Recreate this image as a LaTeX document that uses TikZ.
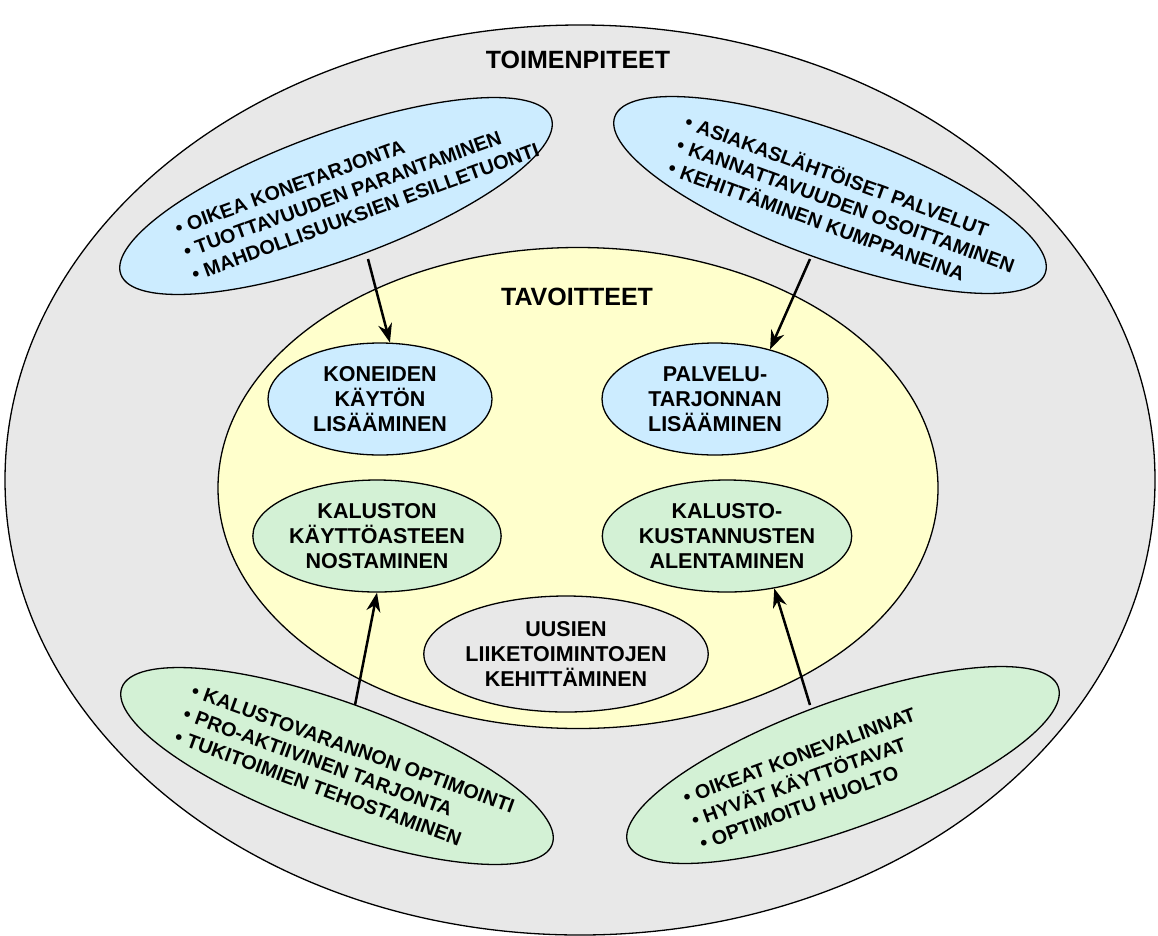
\documentclass[tikz,border=0pt]{standalone}
\usepackage{fontspec}
\setmainfont{Liberation Sans}
\usetikzlibrary{shapes.geometric,arrows.meta}
\definecolor{greyfill}{RGB}{232,232,232}
\definecolor{yellowfill}{RGB}{255,255,204}
\definecolor{bluefill}{RGB}{204,236,255}
\definecolor{greenfill}{RGB}{211,241,213}
\begin{document}
\begin{tikzpicture}[x=1pt,y=-1pt,>={Stealth[length=19pt,width=14pt]},
  goal/.style={ellipse,draw,line width=1.3pt,inner sep=0pt,align=center,minimum height=112pt,
    font=\fontsize{21.5}{25}\selectfont\bfseries},
  action/.style={ellipse,draw,line width=1.3pt,inner sep=0pt,minimum width=458pt,minimum height=127pt},
  bullets/.style={anchor=west,inner sep=0pt,align=left,font=\fontsize{19.8}{24.5}\selectfont\bfseries},
  head/.style={font=\fontsize{25}{30}\selectfont\bfseries}]
\useasboundingbox (0,0) rectangle (1158,935);
% containers
\node[ellipse,draw,line width=1.3pt,fill=greyfill,minimum width=1150pt,minimum height=910pt] (outer) at (580,480) {};
\node[ellipse,draw,line width=1.3pt,fill=yellowfill,minimum width=720pt,minimum height=481pt] (inner) at (578,488) {};
\node[head] (toimen) at (578,60) {TOIMENPITEET};
\node[head] (tavoit) at (577,297) {TAVOITTEET};
% goals
\node[goal,fill=bluefill,minimum width=224pt] (kone) at (380,399) {KONEIDEN\\KÄYTÖN\\LISÄÄMINEN};
\node[goal,fill=bluefill,minimum width=226pt] (palvelu) at (715,399) {PALVELU-\\TARJONNAN\\LISÄÄMINEN};
\node[goal,fill=greenfill,minimum width=240pt] (kaluston) at (377,536) {KALUSTON\\KÄYTTÖASTEEN\\NOSTAMINEN};
\node[goal,fill=greenfill,minimum width=230pt] (kustannus) at (727,536) {KALUSTO-\\KUSTANNUSTEN\\ALENTAMINEN};
\node[goal,fill=greyfill,minimum width=253pt,minimum height=116pt] (uusien) at (566,654) {UUSIEN\\LIIKETOIMINTOJEN\\KEHITTÄMINEN};
% actions
\node[action,fill=bluefill,rotate=20] (kone_act) at (336,196) {};
\node[action,fill=bluefill,rotate=-20] (palvelu_act) at (830,195) {};
\node[action,fill=greenfill,rotate=-20] (kaluston_act) at (337,766) {};
\node[action,fill=greenfill,rotate=20] (kustannus_act) at (843,765) {};
\node[bullets,rotate=20] (kone_txt) at (184,252) {•\ OIKEA KONETARJONTA\\•\ TUOTTAVUUDEN PARANTAMINEN\\•\ MAHDOLLISUUKSIEN ESILLETUONTI};
\node[bullets,rotate=-20] (palvelu_txt) at (678,143) {•\ ASIAKASLÄHTÖISET PALVELUT\\•\ KANNATTAVUUDEN OSOITTAMINEN\\•\ KEHITTÄMINEN KUMPPANEINA};
\node[bullets,rotate=-20] (kaluston_txt) at (184,713) {•\ KALUSTOVARANNON OPTIMOINTI\\•\ PRO-AKTIIVINEN TARJONTA\\•\ TUKITOIMIEN TEHOSTAMINEN};
\node[bullets,rotate=20] (kustannus_txt) at (692,821) {•\ OIKEAT KONEVALINNAT\\•\ HYVÄT KÄYTTÖTAVAT\\•\ OPTIMOITU HUOLTO};
% arrows
\coordinate (kone_from) at (368,259);
\coordinate (palvelu_from) at (810,259);
\coordinate (kaluston_from) at (355,705);
\coordinate (kustannus_from) at (810,705);
\draw[->,line width=2.5pt] (kone_from) -- (kone.80);
\draw[->,line width=2.5pt] (palvelu_from) -- (palvelu.42);
\draw[->,line width=2.5pt] (kaluston_from) -- (kaluston.south);
\draw[->,line width=2.5pt] (kustannus_from) -- (kustannus.-48);
\end{tikzpicture}
\end{document}
